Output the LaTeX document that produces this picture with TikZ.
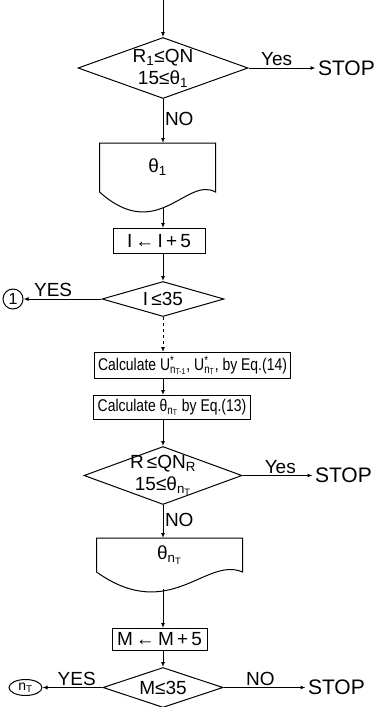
\documentclass[tikz,border=0pt]{standalone}
\usepackage{fontspec}
\setmainfont{Liberation Sans}
\newfontfamily\narrowfont[FakeStretch=0.82]{Liberation Sans}
\usetikzlibrary{arrows.meta,positioning,shapes.geometric,calc}
\tikzset{
  flowpicture/.style={x=1pt, y=1pt, line width=1pt, font=\fontsize{19}{22}\selectfont},
  flowbox/.style={draw, rectangle, inner xsep=4pt, inner ysep=2pt, minimum height=24pt},
  flowcalc/.style={flowbox, font=\narrowfont\fontsize{17}{19}\selectfont},
  flowgate/.style={diamond, draw, inner sep=-5pt, align=center},
  flowdoc/.style={rectangle, inner sep=0pt},
  flowlink/.style={circle, draw, inner sep=0pt, minimum size=20pt, font=\fontsize{16}{18}\selectfont},
  flowoval/.style={ellipse, draw, inner sep=0pt, minimum width=33pt, minimum height=16pt, font=\fontsize{14}{16}\selectfont},
  flowstop/.style={inner sep=2pt, font=\fontsize{21}{24}\selectfont},
  flowlabel/.style={inner sep=1.5pt},
  flowarrow/.style={-{Latex[length=5pt, width=4pt]}},
  flowdashed/.style={flowarrow, dashed}
}
\begin{document}
\begin{tikzpicture}[flowpicture]
\useasboundingbox (0,0) rectangle (378,-707);
\coordinate (top) at (163,0);
% first test
\node[flowgate, aspect=2.8, minimum width=170pt, minimum height=61pt, below=37pt of top] (deca) {R\textsubscript{1}≤QN\\15≤θ\textsubscript{1}};
\node[flowstop, right=67pt of deca] (stopa) {STOP};
\node[flowdoc, minimum width=115pt, minimum height=48pt, below=44pt of deca, xshift=-5.5pt] (doca) {θ\textsubscript{1}};
\node[flowbox, minimum width=92pt, minimum height=25pt, below=36pt of doca, xshift=1.5pt] (inca) {I\,←\,I\,+\,5};
% loop test on I
\node[flowgate, aspect=3.5, minimum width=122pt, minimum height=35pt, below=27pt of inca, xshift=4pt] (decb) {I\,≤35};
\node[flowlink, left=78pt of decb] (conna) {1};
\node[flowcalc, minimum height=26pt, below=35pt of decb, xshift=29.5pt] (calca) {Calculate U\rlap{\textsuperscript{*}}\textsubscript{n\textsubscript{T-1}}, U\rlap{\textsuperscript{*}}\textsubscript{n\textsubscript{T}}, by Eq.(14)};
\node[flowcalc, below=16pt of calca, xshift=-20.5pt] (calcb) {Calculate θ\textsubscript{n\textsubscript{T}} by Eq.(13)};
% second test
\node[flowgate, aspect=2.6, minimum width=158pt, minimum height=58pt, below=26pt of calcb, xshift=-9pt] (decc) {R\,≤QN\textsubscript{R}\\15≤θ\textsubscript{n\textsubscript{T}}};
\node[flowstop, right=70pt of decc] (stopb) {STOP};
\node[flowdoc, minimum width=145pt, minimum height=33pt, below=33pt of decc, xshift=6.5pt] (docb) {θ\textsubscript{n\textsubscript{T}}};
\node[flowbox, minimum width=95pt, minimum height=22pt, below=56pt of docb, xshift=-10pt] (incb) {M\,←\,M\,+\,5};
\node[flowgate, aspect=3, minimum width=120pt, minimum height=40pt, below=16pt of incb, xshift=3.5pt] (decd) {M≤35};
\node[flowoval, left=60pt of decd] (connb) {n\textsubscript{T}};
\node[flowstop, right=82pt of decd] (stopc) {STOP};
% document outlines
\foreach \doc in {doca,docb}
  \draw (\doc.south west) -- (\doc.north west) -- (\doc.north east) -- (\doc.south east)
    .. controls ($(\doc.south west)!0.75!(\doc.south east)+(0,16)$) and ($(\doc.south west)!0.5!(\doc.south east)+(0,-52)$) .. (\doc.south west);
\coordinate (doca-out) at ($(top |- doca.south)+(0,-15)$);
\coordinate (docb-out) at ($(top |- docb.south)+(0,-17)$);
% connectors
\draw[flowarrow] (top) -- (deca);
\draw[flowarrow] (deca) -- node[flowlabel, above, pos=0.42] {Yes} (stopa);
\draw[flowarrow] (deca) -- node[flowlabel, right, pos=0.46] {NO} (top |- doca.north);
\draw[flowarrow] (doca-out) -- (top |- inca.north);
\draw[flowarrow] (top |- inca.south) -- (top |- decb.north);
\draw[flowarrow] (decb) -- node[flowlabel, above, pos=0.62] {YES} (conna);
\draw[flowdashed] (top |- decb.south) -- (top |- calca.north);
\draw[flowarrow] (top |- calca.south) -- (top |- calcb.north);
\draw[flowarrow] (top |- calcb.south) -- (top |- decc.north);
\draw[flowarrow] (decc) -- node[flowlabel, above, pos=0.54] {Yes} (stopb);
\draw[flowarrow] (top |- decc.south) -- node[flowlabel, right, pos=0.45] {NO} (top |- docb.north);
\draw[flowarrow] (docb-out) -- (top |- incb.north);
\draw[flowarrow] (top |- incb.south) -- (top |- decd.north);
\draw[flowarrow] (decd) -- node[flowlabel, above, pos=0.43] {YES} (connb);
\draw[flowarrow] (decd) -- node[flowlabel, above, pos=0.45] {NO} (stopc);
\end{tikzpicture}
\end{document}
